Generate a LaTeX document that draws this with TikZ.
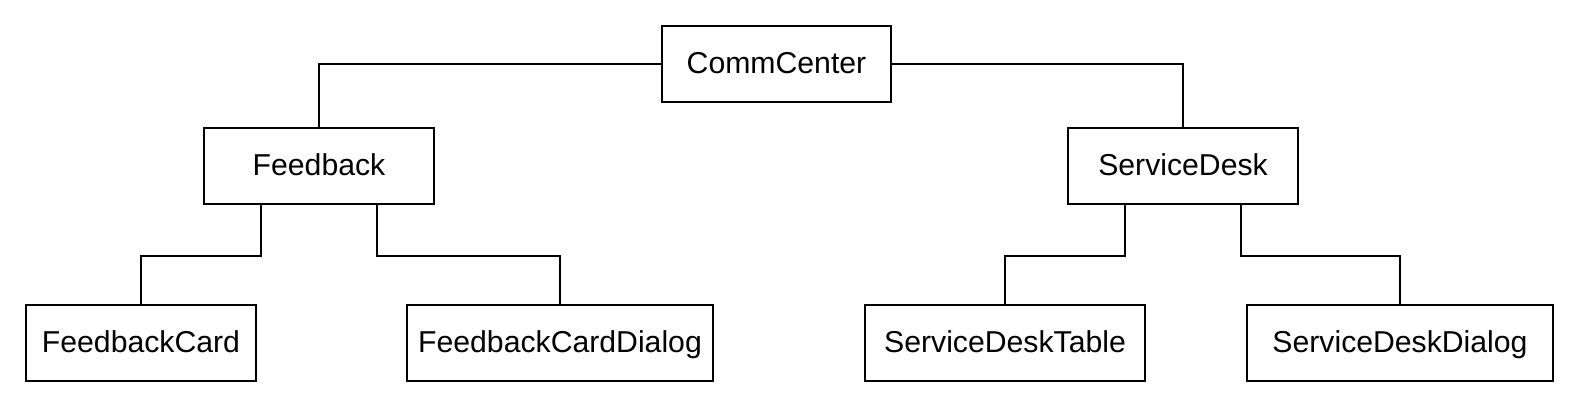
\documentclass[tikz,border=0pt]{standalone}
\usepackage{fontspec}
\setmainfont{Liberation Sans}
\usetikzlibrary{calc}
\begin{document}
\begin{tikzpicture}[x=1pt,y=-1pt,
  box/.style={draw,line width=2.5pt,inner sep=0pt,minimum height=76pt,text height=21.5pt,text depth=3pt,font=\fontsize{30.2}{34}\selectfont},
  link/.style={line width=2.5pt}]
\useasboundingbox (0,0) rectangle (1579,408);
\node[box,minimum width=229pt] (cc) at (776.5,64) {CommCenter};
\node[box,minimum width=230pt] (fb) at (319,166) {Feedback};
\node[box,minimum width=230pt] (sd) at (1183,166) {ServiceDesk};
\node[box,minimum width=230pt] (fc) at (141,343) {FeedbackCard};
\node[box,minimum width=306pt] (fcd) at (560,343) {FeedbackCardDialog};
\node[box,minimum width=280pt] (sdt) at (1005,343) {ServiceDeskTable};
\node[box,minimum width=306pt] (sdd) at (1400,343) {ServiceDeskDialog};
\coordinate (fbL) at ($(fb.south west)!0.25!(fb.south east)$);
\coordinate (fbR) at ($(fb.south west)!0.75!(fb.south east)$);
\coordinate (sdL) at ($(sd.south west)!0.25!(sd.south east)$);
\coordinate (sdR) at ($(sd.south west)!0.75!(sd.south east)$);
\draw[link] (cc.west) -| (fb.north);
\draw[link] (cc.east) -| (sd.north);
\draw[link] (fbL) -- ++(0,50.5) -| (fc.north);
\draw[link] (fbR) -- ++(0,50.5) -| (fcd.north);
\draw[link] (sdL) -- ++(0,50.5) -| (sdt.north);
\draw[link] (sdR) -- ++(0,50.5) -| (sdd.north);
\end{tikzpicture}
\end{document}
